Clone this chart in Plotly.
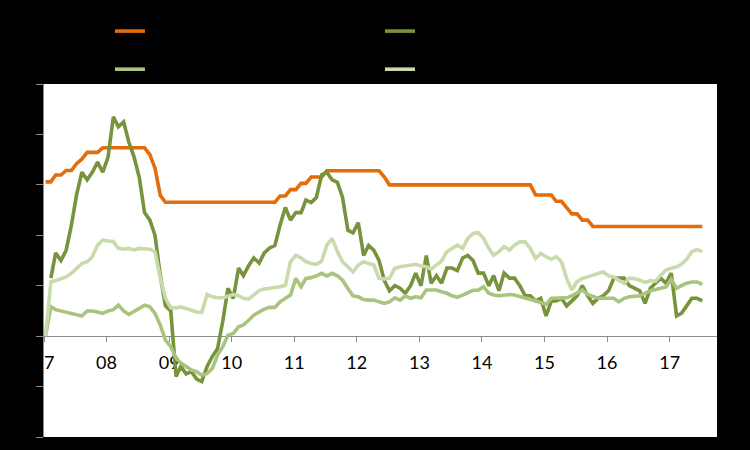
import plotly.graph_objects as go
import pandas as pd

months = (pd.date_range("2007-01-01", periods=127, freq="MS") + pd.Timedelta(days=9)).strftime("%Y-%m-%d").tolist()

series_names = ["1-year lending rate", "CPI", "Non-food CPI", "Services CPI"]

lending_rate = (
    [6.12, 6.12, 6.39, 6.39, 6.57, 6.57, 6.84, 7.02, 7.29, 7.29, 7.29, 7.47]
    + [7.47] * 8 + [7.20, 6.66, 5.58, 5.31]
    + [5.31] * 12
    + [5.31] * 9 + [5.56, 5.56, 5.81]
    + [5.81, 6.06, 6.06, 6.31, 6.31, 6.31] + [6.56] * 6
    + [6.56] * 5 + [6.31] + [6.00] * 6
    + [6.00] * 12
    + [6.00] * 10 + [5.60, 5.60]
    + [5.60, 5.60, 5.35, 5.35, 5.10, 4.85, 4.85, 4.60, 4.60, 4.35, 4.35, 4.35]
    + [4.35] * 12
    + [4.35] * 7
)

cpi = [
    None, 2.3, 3.3, 3.0, 3.4, 4.4, 5.6, 6.5, 6.2, 6.5, 6.9, 6.5,
    7.1, 8.7, 8.3, 8.5, 7.7, 7.1, 6.3, 4.9, 4.6, 4.0, 2.4, 1.2,
    1.0, -1.6, -1.2, -1.5, -1.4, -1.7, -1.8, -1.2, -0.8, -0.5, 0.6, 1.9,
    1.5, 2.7, 2.4, 2.8, 3.1, 2.9, 3.3, 3.5, 3.6, 4.4, 5.1, 4.6,
    4.9, 4.9, 5.4, 5.3, 5.5, 6.4, 6.5, 6.2, 6.1, 5.5, 4.2, 4.1,
    4.5, 3.2, 3.6, 3.4, 3.0, 2.2, 1.8, 2.0, 1.9, 1.7, 2.0, 2.5,
    2.0, 3.2, 2.1, 2.4, 2.1, 2.7, 2.7, 2.6, 3.1, 3.2, 3.0, 2.5,
    2.5, 2.0, 2.4, 1.8, 2.5, 2.3, 2.3, 2.0, 1.6, 1.6, 1.4, 1.5,
    0.8, 1.4, 1.4, 1.5, 1.2, 1.4, 1.6, 2.0, 1.6, 1.3, 1.5, 1.6,
    1.8, 2.3, 2.3, 2.3, 2.0, 1.9, 1.8, 1.3, 1.9, 2.1, 2.3, 2.1,
    2.5, 0.8, 0.9, 1.2, 1.5, 1.5, 1.4,
]

nonfood_cpi = [
    0.0, 1.16, 1.05, 1.0, 0.96, 0.9, 0.86, 0.8, 1.0, 1.0, 0.96, 0.9,
    1.0, 1.05, 1.23, 1.0, 0.86, 0.97, 1.1, 1.23, 1.16, 0.9, 0.44, -0.16,
    -0.42, -0.87, -1.07, -1.2, -1.34, -1.41, -1.55, -1.48, -1.28, -0.75, -0.42, 0.04,
    0.11, 0.37, 0.44, 0.63, 0.83, 0.96, 1.07, 1.14, 1.14, 1.36, 1.5, 1.63,
    2.29, 1.96, 2.29, 2.32, 2.39, 2.49, 2.39, 2.49, 2.39, 2.22, 1.89, 1.6,
    1.56, 1.45, 1.43, 1.43, 1.36, 1.3, 1.36, 1.52, 1.43, 1.6, 1.5, 1.56,
    1.52, 1.83, 1.83, 1.83, 1.76, 1.7, 1.6, 1.54, 1.63, 1.73, 1.82, 1.82,
    1.96, 1.7, 1.63, 1.6, 1.63, 1.65, 1.63, 1.56, 1.5, 1.45, 1.4, 1.34,
    1.26, 1.5, 1.5, 1.5, 1.52, 1.6, 1.7, 1.83, 1.65, 1.56, 1.5, 1.5,
    1.5, 1.5, 1.36, 1.5, 1.56, 1.58, 1.6, 1.7, 1.8, 1.85, 1.9, 1.95,
    2.25, 1.9, 2.0, 2.1, 2.15, 2.15, 2.05,
]

services_cpi = [
    0.0, 2.16, 2.2, 2.29, 2.35, 2.49, 2.66, 2.88, 2.95, 3.15, 3.61, 3.81,
    3.77, 3.75, 3.48, 3.45, 3.48, 3.42, 3.48, 3.45, 3.45, 3.35, 2.3, 1.5,
    1.13, 1.12, 1.16, 1.1, 1.03, 0.96, 0.94, 1.65, 1.56, 1.52, 1.52, 1.6,
    1.65, 1.6, 1.5, 1.47, 1.63, 1.81, 1.87, 1.9, 1.92, 1.96, 2.02, 2.95,
    3.21, 3.1, 2.95, 2.88, 2.85, 2.98, 3.61, 3.88, 3.35, 2.95, 2.75, 2.55,
    2.82, 2.95, 2.88, 2.82, 2.29, 2.27, 2.29, 2.69, 2.75, 2.78, 2.79, 2.85,
    2.78, 2.75, 2.66, 2.82, 2.98, 3.35, 3.48, 3.61, 3.48, 3.88, 4.07, 4.1,
    3.88, 3.48, 3.21, 3.35, 3.55, 3.42, 3.61, 3.74, 3.74, 3.48, 3.08, 3.28,
    3.15, 3.05, 3.15, 2.95, 2.29, 1.83, 2.16, 2.29, 2.35, 2.42, 2.51, 2.55,
    2.39, 2.35, 2.22, 2.09, 2.3, 2.28, 2.22, 2.13, 2.2, 2.18, 2.42, 2.62,
    2.69, 2.75, 2.85, 3.05, 3.35, 3.43, 3.35,
]

year_ticks = [f"{y}-01-01" for y in range(2007, 2018)]
year_labels = ["07", "08", "09", "10", "11", "12", "13", "14", "15", "16", "17"]
y_ticks = [-4, -2, 0, 2, 4, 6, 8, 10]

colors = ["#E46C0A", "#77933C", "#A8C47E", "#C9DAAB"]
data = [lending_rate, cpi, nonfood_cpi, services_cpi]

fig = go.Figure()
for name, vals, col in zip(series_names, data, colors):
    fig.add_trace(go.Scatter(
        x=months, y=vals, name=name, mode="lines",
        line=dict(color=col, width=3.6),
        connectgaps=False,
    ))

fig.update_layout(
    width=750, height=450,
    paper_bgcolor="black", plot_bgcolor="white",
    margin=dict(l=44, r=33, t=84, b=13, autoexpand=False),
    font=dict(family="Lato, Carlito, Calibri, sans-serif", color="black"),
    showlegend=True,
    legend=dict(
        orientation="h", x=0.098, y=1.218, xanchor="left", yanchor="top",
        entrywidth=225, entrywidthmode="pixels",
        font=dict(size=27, color="black"),
        bgcolor="rgba(0,0,0,0)", traceorder="normal",
    ),
    xaxis=dict(
        type="date",
        range=["2007-01-01", "2017-10-04"],
        tickvals=year_ticks, ticktext=year_labels,
        anchor="free", position=2 / 7,
        showline=True, linecolor="#8c8c8c", linewidth=1,
        ticks="outside", ticklen=5, tickcolor="#8c8c8c",
        tickfont=dict(size=18, color="black"),
        ticklabelstandoff=5,
        showgrid=False, zeroline=False,
        layer="below traces",
    ),
    yaxis=dict(
        range=[-4, 10], tickvals=y_ticks,
        showline=True, linecolor="#8c8c8c", linewidth=1,
        ticks="outside", ticklen=7, tickcolor="#8c8c8c",
        tickfont=dict(size=16, color="black"),
        showgrid=False, zeroline=False,
    ),
)

fig.write_html(
    "out.html",
    config={"displayModeBar": False},
    post_script="document.body.style.margin='0';document.body.style.overflow='hidden';",
)
